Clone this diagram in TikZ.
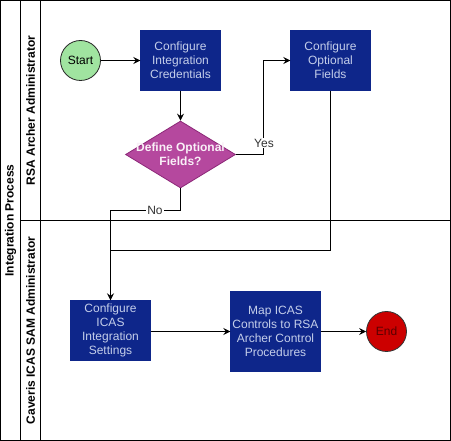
\documentclass[tikz,border=0pt]{standalone}
\usepackage{fontspec}
\setmainfont{Liberation Sans}
\usetikzlibrary{shapes.geometric,arrows.meta}
\definecolor{boxblue}{RGB}{14,38,138}
\definecolor{boxtext}{RGB}{196,206,234}
\definecolor{decfill}{RGB}{181,72,158}
\definecolor{decdraw}{RGB}{140,40,120}
\definecolor{startfill}{RGB}{160,228,160}
\definecolor{endfill}{RGB}{204,0,0}
\definecolor{endtext}{RGB}{90,0,0}
\begin{document}
\begin{tikzpicture}[x=1pt,y=-1pt,
  every node/.style={font=\fontsize{12}{14}\selectfont},
  procbox/.style={rectangle,fill=boxblue,draw=boxblue,text=boxtext,align=center,inner sep=0pt},
  arr/.style={-{Stealth[length=7pt,width=7pt,inset=2.5pt]},line width=0.9pt},
  ln/.style={line width=0.9pt},
  elabel/.style={fill=white,inner sep=1pt,text=black!80},
  lanetitle/.style={rotate=90,font=\bfseries\fontsize{12}{14}\selectfont}
]
\useasboundingbox (0,0) rectangle (451,441);
% pool and lanes
\draw[ln] (0.5,0.5) rectangle (450.5,440.5);
\draw[ln] (20.5,0.5) -- (20.5,440.5);
\draw[ln] (40.5,0.5) -- (40.5,440.5);
\draw[ln] (20.5,220.5) -- (450.5,220.5);
\node[lanetitle] (pool) at (10.5,220.5) {Integration Process};
\node[lanetitle] (lane1) at (30.5,110.5) {RSA Archer Administrator};
\node[lanetitle] (lane2) at (30.5,330.5) {Caveris ICAS SAM Administrator};
% nodes
\node[circle,fill=startfill,draw=black!85,line width=0.8pt,minimum size=40pt,inner sep=0pt] (start) at (80.5,60.5) {Start};
\node[procbox,minimum width=80pt,minimum height=60pt] (cred) at (180.5,60.5) {Configure\\Integration\\Credentials};
\node[diamond,fill=decfill,draw=decdraw,line width=0.8pt,minimum width=110pt,minimum height=67pt,inner sep=0pt] (dec) at (180.5,154.5) {};
\node[text=white!92!decfill,align=center,font=\bfseries\fontsize{12}{14}\selectfont] (dectext) at (180.5,154.5) {Define Optional\\Fields?};
\node[procbox,minimum width=80pt,minimum height=60pt] (opt) at (330.5,60.5) {Configure\\Optional\\Fields};
\node[procbox,minimum width=80pt,minimum height=60pt] (icas) at (110.5,330.5) {Configure\\ICAS\\Integration\\Settings};
\node[procbox,minimum width=90pt,minimum height=80pt] (map) at (275.5,331.5) {Map ICAS\\Controls to RSA\\Archer Control\\Procedures};
\node[circle,fill=endfill,draw=black!80,line width=0.8pt,minimum size=40pt,inner sep=0pt,text=endtext] (end) at (386.5,331.5) {End};
\coordinate (j) at (110.5,250.5);
% connectors
\draw[arr] (start) -- (cred);
\draw[arr] (cred) -- (dec);
\draw[arr] (dec.east) -- ++(27.5,0) |- (opt.west);
\node[elabel] (yes) at (264,143) {Yes};
\draw[arr] (dec.south) -- ++(0,22) -| (icas.north);
\node[elabel] (no) at (155,210.5) {No};
\draw[ln] (opt.south) |- (j);
\draw[arr] (icas.east |- map.west) -- (map.west);
\draw[arr] (map) -- (end);
\end{tikzpicture}
\end{document}
